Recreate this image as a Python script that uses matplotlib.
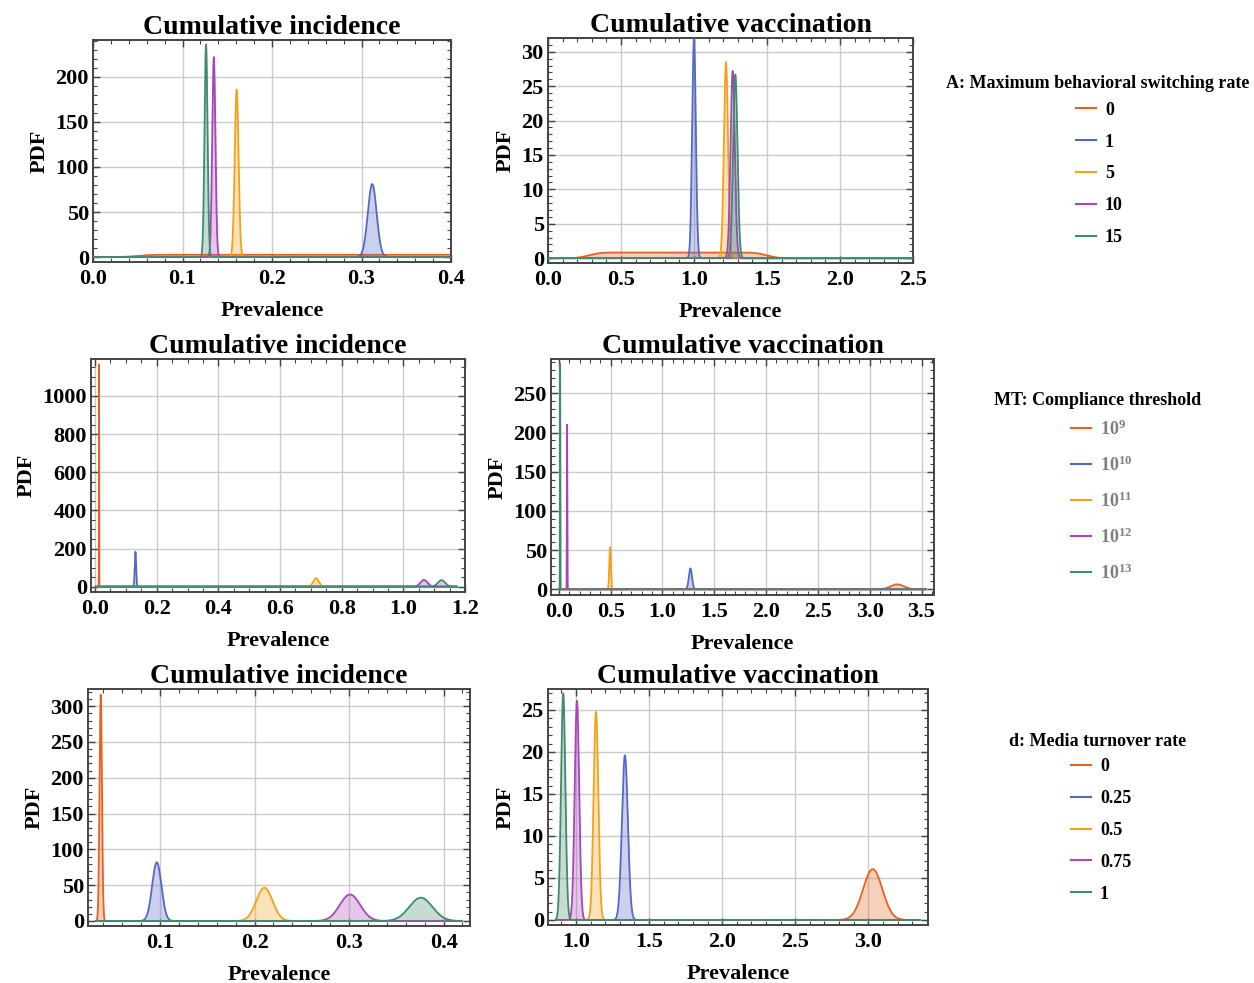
import math
import numpy as np
import matplotlib
matplotlib.use("Agg")
import matplotlib.pyplot as plt
from matplotlib.ticker import MultipleLocator, AutoMinorLocator, FormatStrFormatter
from matplotlib.lines import Line2D

# ---------------- data ----------------
colors = ['#E8621F', '#5468C6', '#F4A11A', '#A845B9', '#3F8B6D']

legend_titles = ['A: Maximum behavioral switching rate',
                 'MT: Compliance threshold',
                 'd: Media turnover rate']
A_labels = ['0', '1', '5', '10', '15']
MT_labels = [r'$10^{9}$', r'$10^{10}$', r'$10^{11}$', r'$10^{12}$', r'$10^{13}$']
d_labels = ['0', '0.25', '0.5', '0.75', '1']

# peak locations (mean) and peak heights of each PDF; nan = broad plateau
ciA_mean = [np.nan, 0.312, 0.1605, 0.135, 0.1263]
ciA_peak = [np.nan, 81, 186, 222, 236]
ciA_plateau = (0.05, 0.45, 0.012)      # low, high, edge softness of A=0

cvA_mean = [np.nan, 1.0, 1.219, 1.265, 1.283]
cvA_peak = [np.nan, 32, 28.5, 27.2, 26.7]
cvA_plateau = (0.28, 1.50, 0.06)

ciMT_mean = [0.013, 0.131, 0.717, 1.067, 1.124]
ciMT_peak = [1166, 183, 44, 35, 34]

cvMT_mean = [3.265, 1.27, 0.495, 0.08, 0.013]
cvMT_peak = [6.3, 26.7, 53.7, 210, 288]

cid_mean = [0.0372, 0.0965, 0.2104, 0.301, 0.376]
cid_peak = [316, 82, 46.5, 37, 32.5]

cvd_mean = [3.03, 1.335, 1.137, 1.007, 0.913]
cvd_peak = [6.05, 19.6, 24.8, 26.1, 27.0]

# range over which the curves were evaluated
ciA_span = (0.0, 0.4)
cvA_span = (0.0, 2.5)
ciMT_span = (0.005, 1.173)
cvMT_span = (0.0, 3.54)
cid_span = (0.032, 0.419)
cvd_span = (0.863, 3.353)

# ---------------- style ----------------
plt.rcParams['font.family'] = ['Liberation Serif', 'DejaVu Serif']
plt.rcParams['font.weight'] = 'bold'
plt.rcParams['mathtext.fontset'] = 'custom'
plt.rcParams['mathtext.rm'] = 'Liberation Serif:bold'
plt.rcParams['mathtext.bf'] = 'Liberation Serif:bold'
plt.rcParams['mathtext.it'] = 'Liberation Serif:bold:italic'

W, H = 1254, 983
fig = plt.figure(figsize=(W / 100, H / 100), dpi=100)


def rect(l, t, r, b):
    return [l / W, 1 - b / H, (r - l) / W, (b - t) / H]


erf = np.vectorize(math.erf)


def gauss_pdf(x, mu, peak):
    s = 1.0 / (peak * math.sqrt(2 * math.pi))
    return peak * np.exp(-0.5 * ((x - mu) / s) ** 2)


def plateau_pdf(x, lo, hi, s):
    return 0.5 * (erf((x - lo) / (s * math.sqrt(2))) - erf((x - hi) / (s * math.sqrt(2)))) / (hi - lo)


def panel(r, title, means, peaks, span, xlim, ylim, xmaj, xmin_n, ymaj, ymin_n, plateau=None):
    ax = fig.add_axes(rect(*r))
    x = np.linspace(span[0], span[1], 60001)
    for i in range(5):
        if np.isnan(means[i]):
            y = plateau_pdf(x, *plateau)
        else:
            y = gauss_pdf(x, means[i], peaks[i])
        ax.fill_between(x, 0, y, color=colors[i], alpha=0.3, lw=0, zorder=2 + i)
        ax.plot(x, y, color=colors[i], lw=1.3, zorder=2.5 + i)
    ax.set_xlim(*xlim)
    ax.set_ylim(*ylim)
    ax.xaxis.set_major_locator(MultipleLocator(xmaj))
    ax.xaxis.set_minor_locator(AutoMinorLocator(xmin_n))
    ax.yaxis.set_major_locator(MultipleLocator(ymaj))
    ax.yaxis.set_minor_locator(AutoMinorLocator(ymin_n))
    ax.xaxis.set_major_formatter(FormatStrFormatter('%.1f'))
    ax.yaxis.set_major_formatter(FormatStrFormatter('%d'))
    ax.grid(True, which='major', color='#cbcbcb', lw=1.0, zorder=0)
    ax.set_axisbelow(True)
    ax.tick_params(which='both', direction='in', top=True, right=True, color='#444444')
    ax.tick_params(which='major', length=5, width=1.0, labelsize=16)
    ax.tick_params(axis='x', which='major', pad=5)
    ax.tick_params(axis='y', which='major', pad=3)
    ax.tick_params(which='minor', length=2.8, width=0.8)
    for sp in ax.spines.values():
        sp.set_color('#444444')
        sp.set_linewidth(1.4)
    ax.set_title(title, fontsize=20, fontweight='bold', pad=3)
    ax.set_xlabel('Prevalence', fontsize=16, fontweight='bold', labelpad=9)
    ax.set_ylabel('PDF', fontsize=16, fontweight='bold', labelpad=4)
    return ax


ax1 = panel((93, 40, 451, 262), 'Cumulative incidence', ciA_mean, ciA_peak, ciA_span,
            (0, 0.4), (-5.5, 241), 0.1, 5, 50, 5, plateau=ciA_plateau)
ax2 = panel((548, 38, 913, 263), 'Cumulative vaccination', cvA_mean, cvA_peak, cvA_span,
            (0, 2.5), (-0.7, 32), 0.5, 5, 5, 5, plateau=cvA_plateau)
ax3 = panel((91, 359, 465, 592), 'Cumulative incidence', ciMT_mean, ciMT_peak, ciMT_span,
            (-0.013, 1.2), (-28, 1194), 0.2, 4, 200, 4)
ax4 = panel((551, 359, 934, 595), 'Cumulative vaccination', cvMT_mean, cvMT_peak, cvMT_span,
            (-0.075, 3.62), (-7.3, 294), 0.5, 5, 50, 5)
ax5 = panel((88, 689, 470, 926), 'Cumulative incidence', cid_mean, cid_peak, cid_span,
            (0.0237, 0.428), (-7, 324), 0.1, 5, 50, 5)
ax6 = panel((548, 689, 928, 925), 'Cumulative vaccination', cvd_mean, cvd_peak, cvd_span,
            (0.809, 3.408), (-0.6, 27.5), 0.5, 5, 5, 5)


def legend(title, labels, title_y, left_x, center_y, spacing, txtcolor):
    fig.text(1098 / W, 1 - title_y / H, title, ha='center', va='center',
             fontsize=13, fontweight='bold')
    handles = [Line2D([], [], color=c, lw=1.5) for c in colors]
    lg = fig.legend(handles, labels, loc='center left',
                    bbox_to_anchor=(left_x / W, 1 - center_y / H), frameon=False,
                    prop={'size': 13, 'weight': 'bold'}, handlelength=1.1,
                    handletextpad=0.5, labelspacing=spacing, borderpad=0)
    for t in lg.get_texts():
        t.set_color(txtcolor)
    return lg


legend(legend_titles[0], A_labels, 84, 1067, 174, 0.83, 'black')
legend(legend_titles[1], MT_labels, 400, 1062, 501, 0.92, '#7f7f7f')
legend(legend_titles[2], d_labels, 742, 1062, 830.5, 0.82, 'black')

fig.savefig('out.png', dpi=100)
